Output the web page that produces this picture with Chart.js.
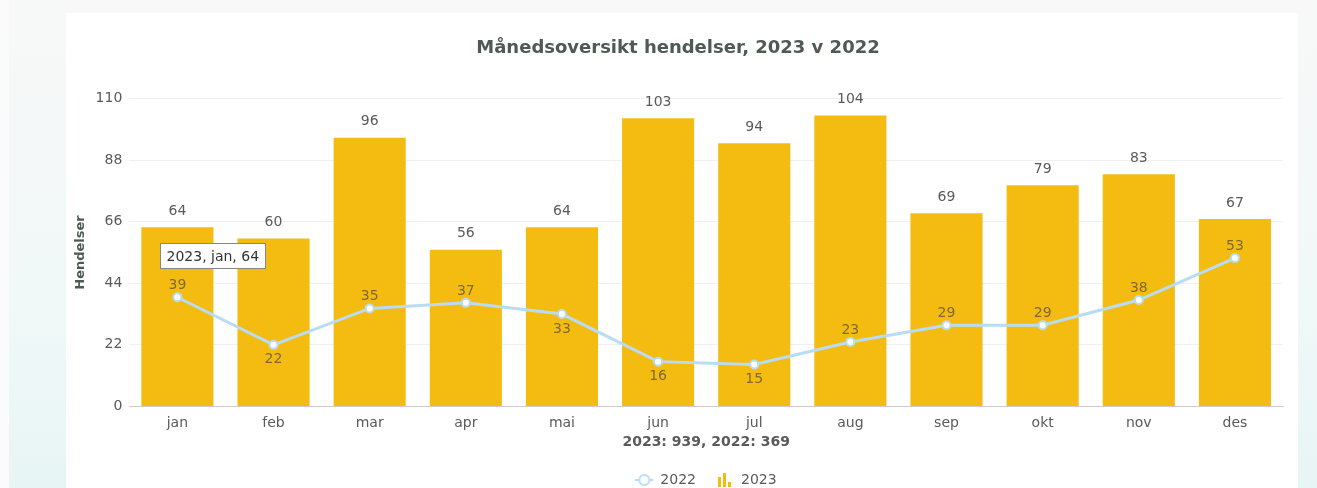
<!DOCTYPE html>
<html>
<head>
<meta charset="utf-8">
<script src="https://cdn.jsdelivr.net/npm/chart.js@4"></script>
<style>
  html, body { margin: 0; padding: 0; }
  body { width: 1317px; height: 488px; background: #fbfbfb; position: relative; overflow: hidden; font-family: "DejaVu Sans", sans-serif; }
  .bg { position: absolute; left: 9px; top: 0; right: 0; bottom: 0; background: linear-gradient(to bottom, #f8f8f8 0%, #f1f8f8 60%, #e8f5f5 100%); }
  .card { position: absolute; left: 66px; top: 13px; width: 1232px; height: 484px; background: #fff; }
  .card canvas { display: block; }
</style>
</head>
<body>
<div class="bg"></div>
<div class="card"><canvas id="hendelser" width="1232" height="484"></canvas></div>
<script>
const months = ['jan', 'feb', 'mar', 'apr', 'mai', 'jun', 'jul', 'aug', 'sep', 'okt', 'nov', 'des'];
const values2023 = [64, 60, 96, 56, 64, 103, 94, 104, 69, 79, 83, 67];
const values2022 = [39, 22, 35, 37, 33, 16, 15, 23, 29, 29, 38, 53];
const yTicks = [0, 22, 44, 66, 88, 110];

const sum = arr => arr.reduce((a, b) => a + b, 0);
const FONT = '"DejaVu Sans", Verdana, sans-serif';
const TEXT = '#5a5a5a';

// ikoner til legenden
function lineIcon() {
  const c = document.createElement('canvas');
  c.width = 18; c.height = 14;
  const g = c.getContext('2d');
  g.strokeStyle = '#b7dcf3';
  g.lineWidth = 2;
  g.beginPath(); g.moveTo(0, 7); g.lineTo(18, 7); g.stroke();
  g.fillStyle = '#fff';
  g.beginPath(); g.arc(9, 7, 5, 0, Math.PI * 2); g.fill(); g.stroke();
  return c;
}
function barIcon() {
  const c = document.createElement('canvas');
  c.width = 14; c.height = 14;
  const g = c.getContext('2d');
  g.fillStyle = '#f4bc11';
  g.fillRect(0, 4, 3, 10);
  g.fillRect(5, 0, 3, 14);
  g.fillRect(10, 9, 3, 5);
  return c;
}

// verdier over søyler og punkter
const valueLabels = {
  id: 'valueLabels',
  afterDatasetsDraw(chart) {
    const { ctx } = chart;
    ctx.save();
    ctx.font = '14px ' + FONT;
    ctx.textAlign = 'center';
    ctx.textBaseline = 'middle';
    chart.data.datasets.forEach((ds, di) => {
      const meta = chart.getDatasetMeta(di);
      meta.data.forEach((el, i) => {
        const v = ds.data[i];
        if (ds.type === 'bar') {
          ctx.fillStyle = TEXT;
          ctx.fillText(v, el.x, el.y - 16);
        } else {
          const below = i > 0 && v < ds.data[i - 1];
          ctx.fillStyle = 'rgba(80, 75, 60, 0.72)';
          ctx.fillText(v, el.x, below ? el.y + 15 : el.y - 12);
        }
      });
    });
    ctx.restore();
  }
};

// fast tooltip på januar
const pinnedTip = {
  id: 'pinnedTip',
  afterDraw(chart) {
    const { ctx } = chart;
    const el = chart.getDatasetMeta(1).data[0];
    const text = '2023, ' + months[0] + ', ' + values2023[0];
    ctx.save();
    ctx.font = '14px ' + FONT;
    const w = Math.round(ctx.measureText(text).width) + 12;
    const h = 25;
    const x = Math.round(el.x - 17) + 0.5;
    const y = Math.round(el.y + 16) + 0.5;
    ctx.fillStyle = '#fff';
    ctx.strokeStyle = '#888';
    ctx.lineWidth = 1;
    ctx.fillRect(x, y, w, h);
    ctx.strokeRect(x, y, w, h);
    ctx.fillStyle = '#333';
    ctx.textBaseline = 'middle';
    ctx.fillText(text, x + 6, y + h / 2 + 1);
    ctx.restore();
  }
};

// legenden står litt til høyre for midten
const legendShift = {
  id: 'legendShift',
  afterLayout(chart) {
    chart.legend.left += 28;
    chart.legend.right += 28;
  }
};

new Chart(document.getElementById('hendelser'), {
  data: {
    labels: months,
    datasets: [
      {
        type: 'line',
        label: '2022',
        data: values2022,
        borderColor: '#b7dcf3',
        backgroundColor: '#fff',
        borderWidth: 3,
        pointRadius: 4,
        pointBorderWidth: 2,
        pointBorderColor: '#b7dcf3',
        pointBackgroundColor: '#fff',
        pointStyle: 'circle',
        tension: 0
      },
      {
        type: 'bar',
        label: '2023',
        data: values2023,
        backgroundColor: '#f4bc11',
        borderWidth: 0,
        barPercentage: 0.75,
        categoryPercentage: 1
      }
    ]
  },
  options: {
    responsive: false,
    animation: false,
    events: [],
    layout: { padding: { left: 7, right: 15, top: 0, bottom: 0 } },
    plugins: {
      title: {
        display: true,
        text: 'Månedsoversikt hendelser, 2023 v 2022',
        color: '#4f5a52',
        font: { family: FONT, size: 18, weight: 'bold' },
        padding: { top: 25, bottom: 39 }
      },
      legend: {
        position: 'bottom',
        labels: {
          color: TEXT,
          font: { family: FONT, size: 14 },
          usePointStyle: true,
          pointStyleWidth: 18,
          padding: 20,
          generateLabels(chart) {
            return chart.data.datasets.map((ds, i) => ({
              text: ds.label,
              fontColor: TEXT,
              pointStyle: i === 0 ? lineIcon() : barIcon(),
              hidden: false,
              datasetIndex: i,
              lineWidth: 0
            }));
          }
        }
      },
      tooltip: { enabled: false }
    },
    scales: {
      x: {
        grid: { display: false, drawTicks: false },
        border: { color: '#ccc' },
        ticks: { color: TEXT, font: { family: FONT, size: 14 }, padding: 9 },
        title: {
          display: true,
          text: '2023: ' + sum(values2023) + ', 2022: ' + sum(values2022),
          color: TEXT,
          font: { family: FONT, size: 14, weight: 'bold' },
          padding: { top: -7, bottom: 2 }
        }
      },
      y: {
        min: 0,
        max: 110,
        afterBuildTicks(axis) { axis.ticks = yTicks.map(v => ({ value: v })); },
        grid: { color: '#f0f0f0', drawTicks: false },
        border: { display: false },
        ticks: { color: TEXT, font: { family: FONT, size: 14 }, padding: 7 },
        title: {
          display: true,
          text: 'Hendelser',
          color: '#4f5a52',
          font: { family: FONT, size: 13, weight: 'bold' },
          padding: { top: 0, bottom: 0 }
        }
      }
    }
  },
  plugins: [valueLabels, pinnedTip, legendShift]
});
</script>
</body>
</html>
